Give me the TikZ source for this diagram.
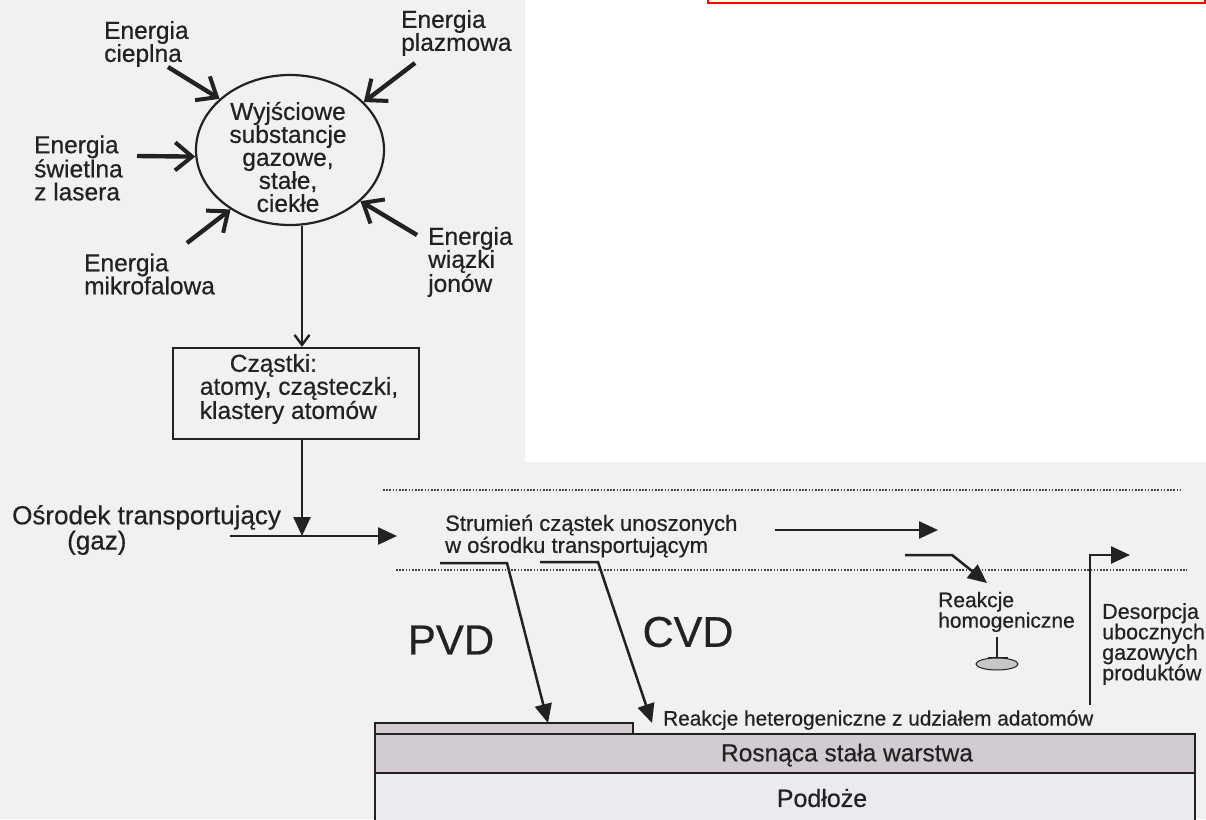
\documentclass[tikz,border=0pt]{standalone}
\usepackage{fontspec}
\setmainfont{Liberation Sans}[FakeBold=0.5]
\usetikzlibrary{arrows.meta,shapes.geometric}
\definecolor{ink}{HTML}{222222}
\definecolor{scan}{HTML}{F1F1F1}
\definecolor{film}{RGB}{210,204,210}
\definecolor{subst}{RGB}{233,235,240}
\begin{document}
\begin{tikzpicture}[x=1pt,y=-1pt,
  lbl/.style={font=\fontsize{24.5}{23}\selectfont, align=left, inner sep=0pt, text=ink},
  earrow/.style={draw=ink, line width=4.4pt, -{Straight Barb[length=17pt,width=28pt,line width=4pt]}},
  tri/.style={-{Triangle[length=19pt,width=17pt]}},
  flow/.style={draw=ink, line width=2.5pt},
  dots/.style={draw=ink!85, line width=1.6pt, dash pattern=on 1.6pt off 1.6pt},
  layer/.style={draw=ink, line width=1.6pt}]
\useasboundingbox (0,0) rectangle (1206,819);

% scanned page behind the drawing
\fill[scan] (0,0) -- (525,0) -- (525,462) -- (1206,462) -- (1206,819) -- (0,819) -- cycle;
% edge of the red frame at the top
\fill[yellow!12] (708,-4) rectangle (1205,3);
\draw[red, line width=2.2pt] (708,-4) -- (708,3) -- (1205,3) -- (1205,-4);

% source substances and energy inputs
\node[ellipse, draw=ink, line width=2.2pt, minimum width=188pt, minimum height=150pt, inner sep=0pt] (src) at (290,150) {};
\node[lbl, align=center] (srctext) at (288,157) {Wyjściowe\\substancje\\gazowe,\\stałe,\\ciekłe};

\node[lbl, anchor=west] (eheat) at (104,44) {Energia\\cieplna};
\node[lbl, anchor=west] (eplasma) at (401,33) {Energia\\plazmowa};
\node[lbl, anchor=west] (elight) at (34,168) {Energia\\świetlna\\z lasera};
\node[lbl, anchor=west] (emicro) at (84,274) {Energia\\mikrofalowa};
\node[lbl, anchor=west] (eion) at (428,262) {Energia\\wiązki\\jonów};

\coordinate (theat) at (168,67);
\coordinate (tplasma) at (415,63);
\coordinate (tlight) at (137,156);
\coordinate (tmicro) at (187,243);
\coordinate (tion) at (417,235);
\draw[earrow] (theat) -- (src.144);
\draw[earrow] (tplasma) -- (src.33);
\draw[earrow] (tlight) -- (src.184);
\draw[earrow] (tmicro) -- (src.225);
\draw[earrow] (tion) -- (src.324);

% particles
\node[draw=ink, line width=2.2pt, minimum width=246pt, minimum height=91pt, inner sep=0pt] (box) at (296,393.5) {};
\node[lbl] (boxtext) at (299,389) {\hspace*{30pt}Cząstki:\\atomy, cząsteczki,\\klastery atomów};

\coordinate (xline) at (302,0);
\draw[flow, -{Straight Barb[length=10pt,width=15pt,line width=2.4pt]}] (src.south -| xline) -- (box.north -| xline);

% transport medium
\coordinate (tleft) at (230,536);
\coordinate (tright) at (397,536);
\draw[flow, tri] (box.south -| xline) -- (tleft -| xline);
\draw[flow, tri] (tleft) -- (tright);
\node[lbl, font=\fontsize{26}{24}\selectfont, anchor=west] (medium) at (12,530) {Ośrodek transportujący\\\hspace*{55pt}(gaz)};

% stream region
\coordinate (d1a) at (383,490); \coordinate (d1b) at (1183,490);
\coordinate (d2a) at (396,570); \coordinate (d2b) at (1187,570);
\draw[dots] (d1a) -- (d1b);
\draw[dots] (d2a) -- (d2b);
\node[lbl, font=\fontsize{22}{22}\selectfont, anchor=west] (stream) at (445,536) {Strumień cząstek unoszonych\\w ośrodku transportującym};
\coordinate (sa) at (775,530); \coordinate (sb) at (938,530);
\draw[flow, tri] (sa) -- (sb);

% substrate and growing film
\filldraw[layer, fill=subst] (375,830) -- (375,773) -- (1195,773) -- (1195,830);
\filldraw[layer, fill=film] (375,734) rectangle (1195,773);
\filldraw[layer, fill=film] (375,723) rectangle (633,734);
\node[lbl] (filmtext) at (847,755) {Rosnąca stała warstwa};
\node[lbl, font=\fontsize{25}{24}\selectfont] (subtext) at (822,798) {Podłoże};

% PVD and CVD paths
\coordinate (pvd0) at (440,563); \coordinate (pvd1) at (507,563); \coordinate (pvdtip) at (548,723);
\coordinate (cvd0) at (540,562); \coordinate (cvd1) at (598,562); \coordinate (cvdtip) at (652,723);
\draw[flow, tri] (pvd0) -- (pvd1) -- (pvdtip);
\draw[flow, tri] (cvd0) -- (cvd1) -- (cvdtip);
\node[lbl, font=\fontsize{42}{42}\selectfont] (pvd) at (451,640) {PVD};
\node[lbl, font=\fontsize{43}{43}\selectfont] (cvd) at (688,632) {CVD};
\node[lbl, font=\fontsize{20.8}{21}\selectfont, anchor=west] (hetero) at (663,720) {Reakcje heterogeniczne z udziałem adatomów};

% homogeneous reactions
\coordinate (h0) at (905,555); \coordinate (h1) at (952,555); \coordinate (htip) at (987,583);
\draw[flow, tri] (h0) -- (h1) -- (htip);
\node[lbl, font=\fontsize{21}{20.5}\selectfont, anchor=west] (homo) at (938,612) {Reakcje\\homogeniczne};
\coordinate (drop0) at (997,637); \coordinate (drop1) at (997,658);
\draw[flow] (drop0) -- (drop1);
\draw[ink, line width=3pt] (988,658) -- (1008,658);
\draw[ink, fill=gray!45, line width=1pt] (997,664) ellipse [x radius=21pt, y radius=6pt];

% desorption of by-products
\coordinate (des0) at (1090,705); \coordinate (des1) at (1090,555); \coordinate (des2) at (1130,555);
\draw[flow, tri] (des0) -- (des1) -- (des2);
\node[lbl, font=\fontsize{21.5}{20.5}\selectfont, anchor=west] (desorp) at (1102,644) {Desorpcja\\ubocznych\\gazowych\\produktów};
\end{tikzpicture}
\end{document}
